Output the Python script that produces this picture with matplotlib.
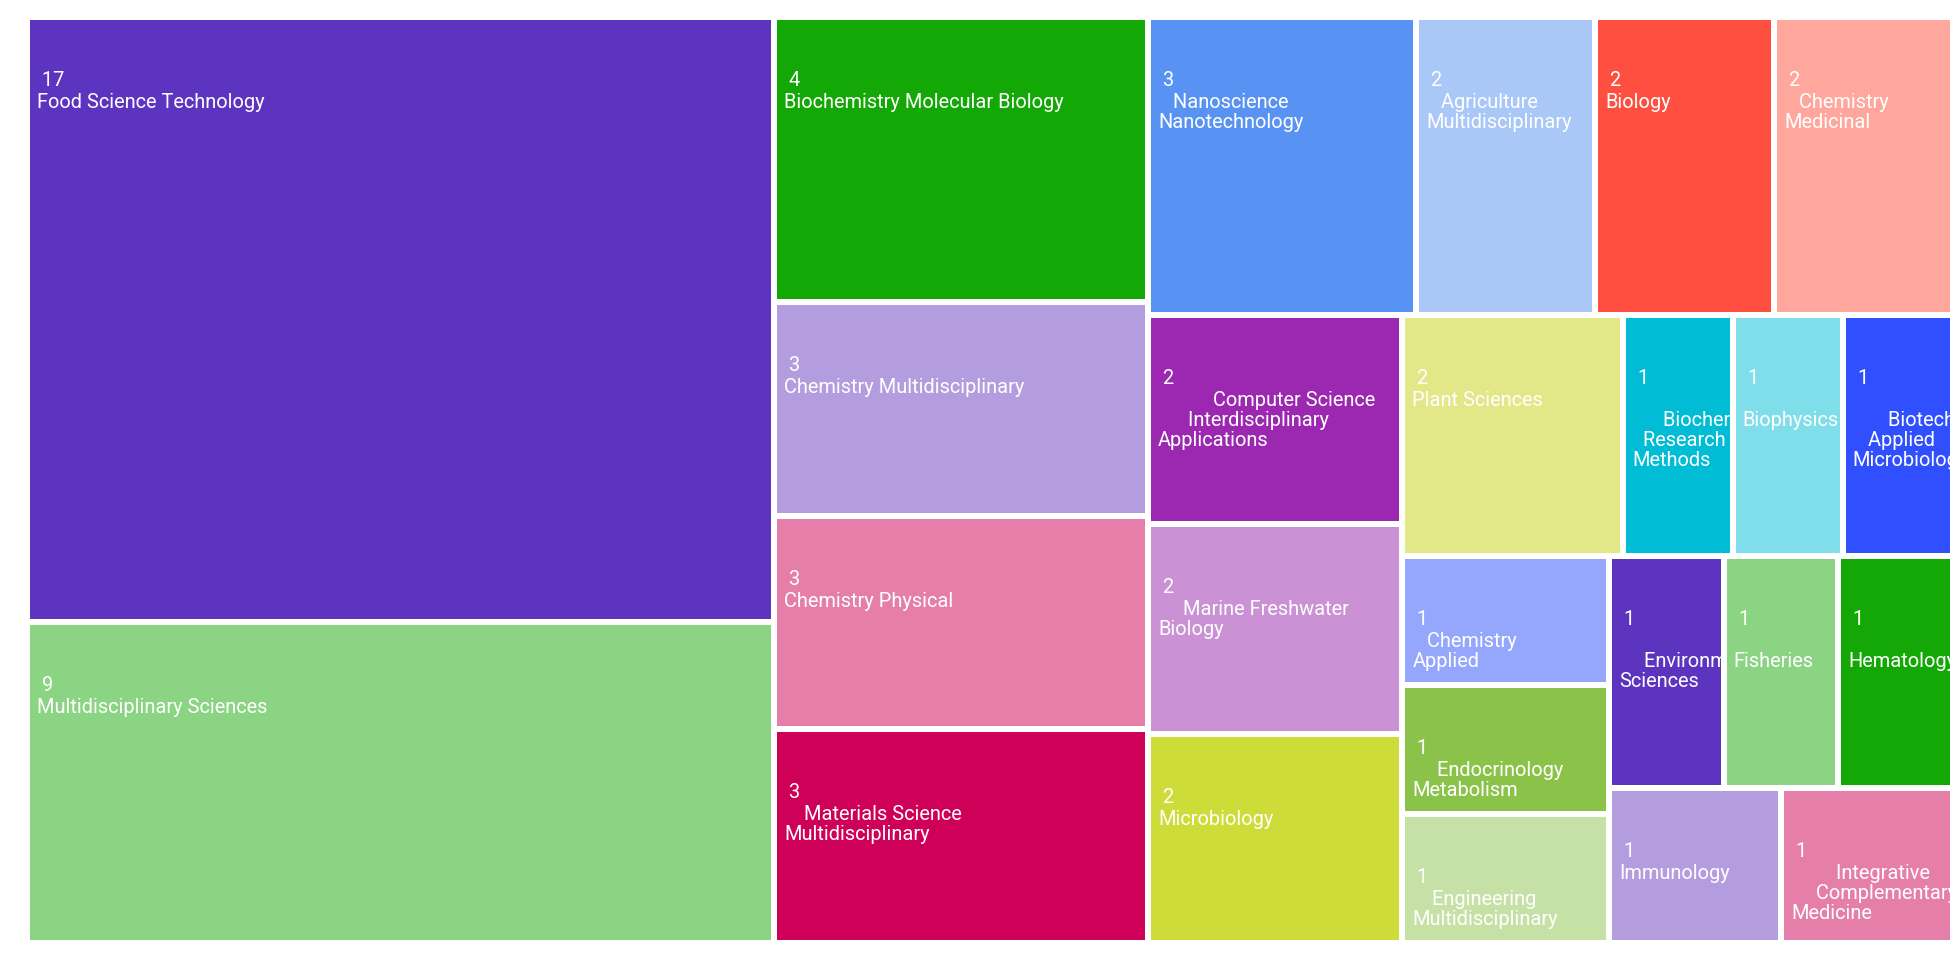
import math
import matplotlib
matplotlib.use("Agg")
import matplotlib.pyplot as plt
from matplotlib.patches import Rectangle
from matplotlib.transforms import Bbox

# categories (data order, alphabetical within equal counts)
names = [
    "Food Science Technology", "Multidisciplinary Sciences",
    "Biochemistry Molecular Biology", "Chemistry Multidisciplinary",
    "Chemistry Physical", "Materials Science Multidisciplinary",
    "Nanoscience Nanotechnology", "Agriculture Multidisciplinary", "Biology",
    "Chemistry Medicinal", "Computer Science Interdisciplinary Applications",
    "Marine Freshwater Biology", "Microbiology", "Plant Sciences",
    "Biochemical Research Methods", "Biophysics",
    "Biotechnology Applied Microbiology", "Chemistry Applied",
    "Endocrinology Metabolism", "Engineering Multidisciplinary",
    "Environmental Sciences", "Fisheries", "Hematology", "Immunology",
    "Integrative Complementary Medicine",
]
counts = [17, 9, 4, 3, 3, 3, 3, 2, 2, 2, 2, 2, 2, 2, 1, 1, 1, 1, 1, 1, 1, 1, 1, 1, 1]

# how each name is wrapped inside its tile
label_lines = [
    ["Food Science Technology"],
    ["Multidisciplinary Sciences"],
    ["Biochemistry Molecular Biology"],
    ["Chemistry Multidisciplinary"],
    ["Chemistry Physical"],
    ["    Materials Science", "Multidisciplinary"],
    ["   Nanoscience", "Nanotechnology"],
    ["   Agriculture", "Multidisciplinary"],
    ["Biology"],
    ["   Chemistry", "Medicinal"],
    ["           Computer Science", "      Interdisciplinary", "Applications"],
    ["     Marine Freshwater", "Biology"],
    ["Microbiology"],
    ["Plant Sciences"],
    ["", "      Biochemical", "  Research", "Methods"],
    ["", "Biophysics"],
    ["", "       Biotechnology", "   Applied", "Microbiology"],
    ["   Chemistry", "Applied"],
    ["     Endocrinology", "Metabolism"],
    ["    Engineering", "Multidisciplinary"],
    ["", "     Environmental", "Sciences"],
    ["", "Fisheries"],
    ["", "Hematology"],
    ["Immunology"],
    ["         Integrative", "     Complementary", "Medicine"],
]

palette = [
    "#5D34BF", "#8AD483", "#13A806", "#B39DDE", "#E57FA9",
    "#CE0058", "#5893F4", "#A9C7F7", "#FF4F40", "#FFA69D",
    "#9C27B0", "#CB91D5", "#CDDC39", "#E2E888", "#00BCD4",
    "#80DEEA", "#304FFE", "#95A7FD", "#8BC34A", "#C5E1A5",
]

GOLDEN = 0.5 * (1 + math.sqrt(5))


def worst(row_areas, fixed_len):
    s = sum(row_areas)
    if s == 0:
        return math.inf
    f = fixed_len * fixed_len * GOLDEN
    return max(f * max(row_areas) / (s * s), (s * s) / (f * min(row_areas)))


def position(row, areas, fixed_len, rect, half_gap, flush, out):
    along_x = fixed_len == rect["w"]
    row_area = sum(areas[i] for i in row)
    other = row_area / fixed_len if fixed_len else 0
    other_full = rect["h"] if along_x else rect["w"]
    if flush or other > other_full:
        other = other_full
    start = rect["x"] if along_x else rect["y"]
    span = rect["w"] if along_x else rect["h"]
    last = start
    for k, i in enumerate(row):
        step = areas[i] / other if other else 0
        remain = start + span - last
        mod = remain if (k == len(row) - 1 or remain < step) else step
        wh1 = max(other - 2 * half_gap, 0)
        wh0 = max(mod - 2 * half_gap, 0)
        if along_x:
            out[i] = (last + min(half_gap, wh0 / 2), rect["y"] + min(half_gap, wh1 / 2), wh0, wh1)
        else:
            out[i] = (rect["x"] + min(half_gap, wh1 / 2), last + min(half_gap, wh0 / 2), wh1, wh0)
        last += mod
    if along_x:
        rect["y"] += other
        rect["h"] -= other
    else:
        rect["x"] += other
        rect["w"] -= other


def squarify(values, x, y, w, h, half_gap):
    total = float(sum(values))
    areas = [v / total * w * h for v in values]
    rect = {"x": x, "y": y, "w": w, "h": h}
    out = [None] * len(values)
    fixed_len = min(w, h)
    row, best, i = [], math.inf, 0
    while i < len(values):
        row.append(i)
        score = worst([areas[j] for j in row], fixed_len)
        if score <= best:
            i += 1
            best = score
        else:
            row.pop()
            position(row, areas, fixed_len, rect, half_gap, False, out)
            fixed_len = min(rect["w"], rect["h"])
            row, best = [], math.inf
    if row:
        position(row, areas, fixed_len, rect, half_gap, True, out)
    return out


W, H = 1960, 960
fig = plt.figure(figsize=(W / 100, H / 100), dpi=100)
ax = fig.add_axes([0, 0, 1, 1])
ax.set_xlim(0, W)
ax.set_ylim(H, 0)
ax.axis("off")

rects = squarify(counts, 27, 17, 1926, 926, 3)

for idx, (rx, ry, rw, rh) in enumerate(rects):
    patch = Rectangle((rx, ry), rw, rh, facecolor=palette[idx % len(palette)], linewidth=0)
    ax.add_patch(patch)
    # text in Agg only honours a clip box, so clip to the tile in display coords
    corners = ax.transData.transform([(rx, ry), (rx + rw, ry + rh)])
    clip = Bbox.from_extents(corners[:, 0].min(), corners[:, 1].min(),
                             corners[:, 0].max(), corners[:, 1].max())
    texts = [ax.text(rx + 7, ry + 66, " " + str(counts[idx]), color="white",
                     fontsize=14.4, family="Roboto", ha="left", va="baseline")]
    for k, line in enumerate(label_lines[idx]):
        if not line:
            continue
        texts.append(ax.text(rx + 7, ry + 88 + 20 * k, line, color="white",
                             fontsize=14.4, family="Roboto", ha="left", va="baseline"))
    for t in texts:
        t.set_clip_on(True)
        t.set_clip_box(clip)

fig.savefig("out.png", dpi=100, facecolor="white")
